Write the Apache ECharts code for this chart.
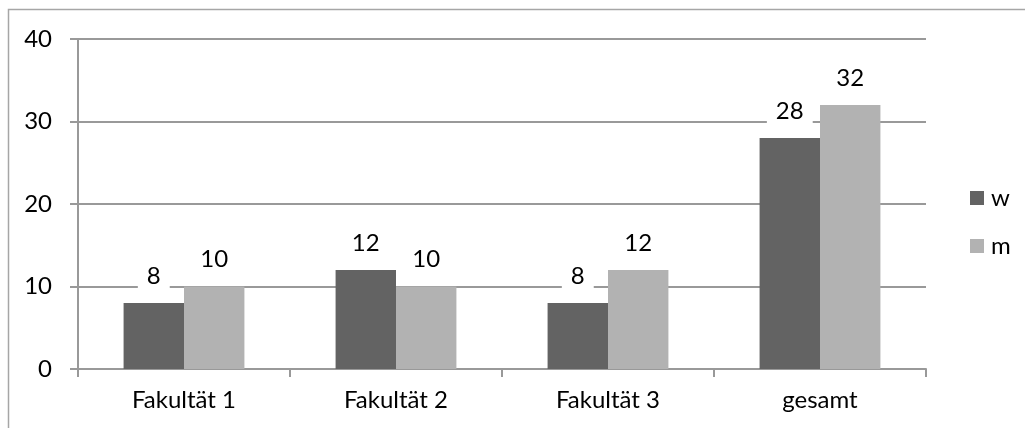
<!DOCTYPE html>
<html>
<head>
<meta charset="utf-8">
<script src="https://cdn.jsdelivr.net/npm/echarts@6/dist/echarts.min.js"></script>
<style>
  html, body { margin: 0; padding: 0; background: #fff; }
  #chart { width: 1025px; height: 428px; }
</style>
</head>
<body>
<div id="chart"></div>
<script>
// Student counts per faculty, split by gender
const categories = ['Fakultät 1', 'Fakultät 2', 'Fakultät 3', 'gesamt'];
const seriesW = [8, 12, 8, 28];
const seriesM = [10, 10, 12, 32];
const seriesNames = ['w', 'm'];
const yTicks = { min: 0, max: 40, interval: 10 };

const FONT = 'Lato';
const FONT_SIZE = 24;
const textColor = '#000';
const lineColor = '#999';

const labelStyle = {
  show: true,
  position: 'top',
  distance: 15,
  color: textColor,
  fontFamily: FONT,
  fontSize: FONT_SIZE,
  backgroundColor: '#fff',
  padding: [0, 9, 0, 9]
};

const chart = echarts.init(document.getElementById('chart'), null, { renderer: 'canvas' });
chart.setOption({
  animation: false,
  backgroundColor: '#fff',
  grid: { left: 78, right: 99, top: 39, bottom: 59, containLabel: false },
  legend: {
    orient: 'vertical',
    left: 965,
    top: 181,
    itemWidth: 14,
    itemHeight: 14,
    itemGap: 24,
    icon: 'rect',
    textStyle: { fontFamily: FONT, fontSize: FONT_SIZE, color: textColor, padding: [0, 0, 0, 2] },
    data: seriesNames
  },
  xAxis: {
    type: 'category',
    data: categories,
    axisLine: { lineStyle: { color: lineColor, width: 2 } },
    axisTick: { show: true, length: 8, lineStyle: { color: lineColor, width: 2 } },
    axisLabel: { fontFamily: FONT, fontSize: FONT_SIZE, color: textColor, margin: 19 },
    splitLine: { show: false }
  },
  yAxis: {
    type: 'value',
    min: yTicks.min,
    max: yTicks.max,
    interval: yTicks.interval,
    axisLine: { show: true, lineStyle: { color: lineColor, width: 2 } },
    axisTick: { show: true, length: 8, lineStyle: { color: lineColor, width: 2 } },
    axisLabel: { fontFamily: FONT, fontSize: FONT_SIZE, color: textColor, margin: 26 },
    splitLine: { show: true, lineStyle: { color: lineColor, width: 2 } }
  },
  series: [
    {
      name: seriesNames[0],
      type: 'bar',
      data: seriesW,
      barGap: '0%',
      barCategoryGap: '43%',
      itemStyle: { color: '#636363' },
      label: labelStyle,
      z: 3
    },
    {
      name: seriesNames[1],
      type: 'bar',
      data: seriesM,
      itemStyle: { color: '#b2b2b2' },
      label: labelStyle,
      z: 3
    }
  ],
  graphic: [
    {
      type: 'polyline',
      shape: { points: [[8.5, 428], [8.5, 9.5], [1025, 9.5]] },
      style: { stroke: '#a6a6a6', lineWidth: 1.5, fill: null },
      silent: true
    }
  ]
});
</script>
</body>
</html>
